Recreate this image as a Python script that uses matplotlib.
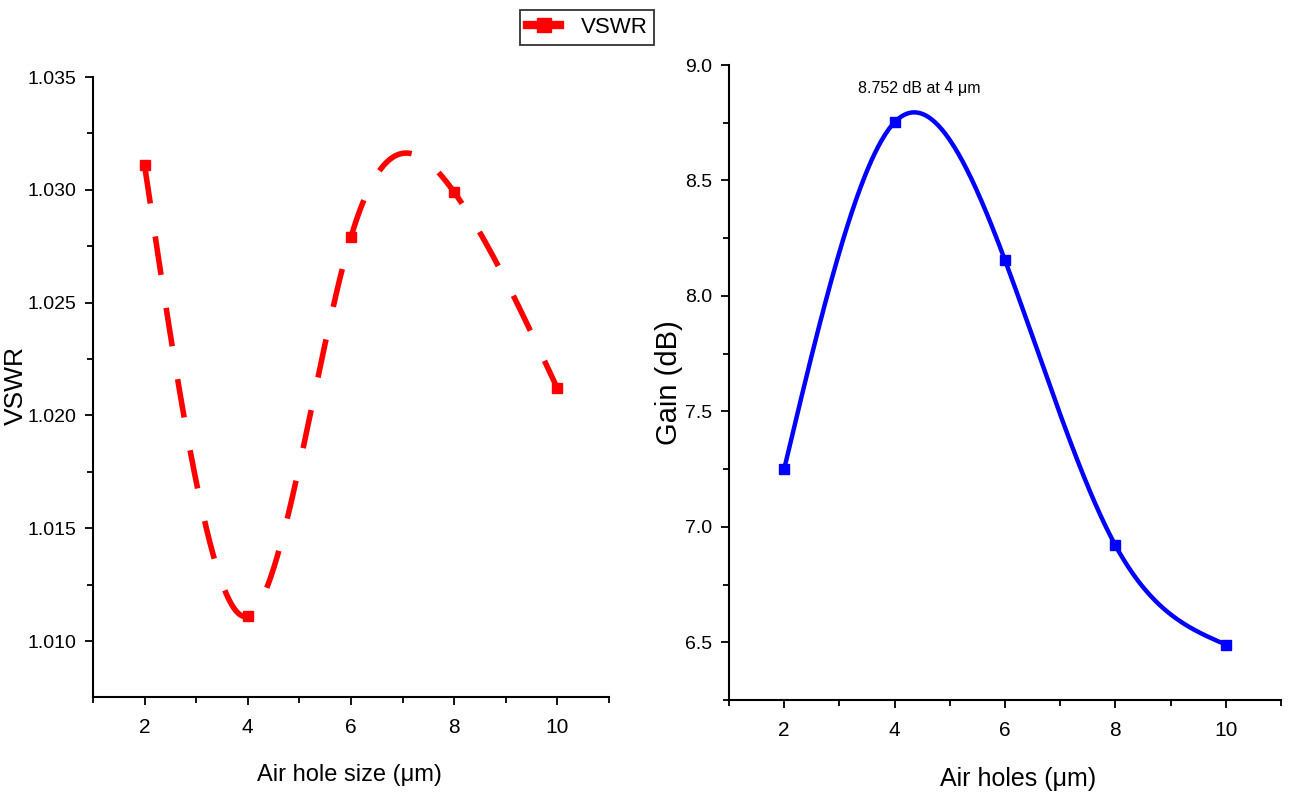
import numpy as np
import matplotlib
matplotlib.use("Agg")
import matplotlib.pyplot as plt
from matplotlib.ticker import MultipleLocator, FormatStrFormatter
from matplotlib.lines import Line2D
from matplotlib.legend_handler import HandlerLine2D

# ------------------------------------------------------------
# DATA
# ------------------------------------------------------------

air_hole_size = [2, 4, 6, 8, 10]
vswr = [1.0311, 1.0111, 1.0279, 1.0299, 1.0212]

air_holes = [2, 4, 6, 8, 10]
gain_db = [7.25, 8.752, 8.155, 6.92, 6.49]

peak_label = "8.752 dB at 4 μm"

plt.rcParams["font.family"] = ["Liberation Sans", "DejaVu Sans"]
plt.rcParams["axes.linewidth"] = 1.5


def spline_curve(x, y, n=400):
    # natural cubic spline, like Origin's "spline" connect mode
    x = np.asarray(x, float)
    y = np.asarray(y, float)
    k = len(x)
    h = np.diff(x)
    A = np.zeros((k, k))
    r = np.zeros(k)
    A[0, 0] = A[-1, -1] = 1.0
    for i in range(1, k - 1):
        A[i, i - 1] = h[i - 1]
        A[i, i] = 2 * (h[i - 1] + h[i])
        A[i, i + 1] = h[i]
        r[i] = 6 * ((y[i + 1] - y[i]) / h[i] - (y[i] - y[i - 1]) / h[i - 1])
    M = np.linalg.solve(A, r)
    xs = np.linspace(x[0], x[-1], n)
    idx = np.clip(np.searchsorted(x, xs) - 1, 0, k - 2)
    x0, x1 = x[idx], x[idx + 1]
    hh = x1 - x0
    a = (x1 - xs) / hh
    b = (xs - x0) / hh
    ys = (a * y[idx] + b * y[idx + 1]
          + ((a ** 3 - a) * M[idx] + (b ** 3 - b) * M[idx + 1]) * hh ** 2 / 6)
    return xs, ys


class MarkerRightHandler(HandlerLine2D):
    # Origin puts the legend symbol at the right end of the line sample
    def get_xdata(self, legend, xdescent, ydescent, width, height, fontsize):
        xdata = np.array([-xdescent, -xdescent + width])
        return xdata, np.array([-xdescent + width * 0.85])


def style_axes(ax):
    ax.spines["top"].set_visible(False)
    ax.spines["right"].set_visible(False)
    ax.xaxis.set_major_locator(MultipleLocator(2))
    ax.xaxis.set_minor_locator(MultipleLocator(1))
    ax.tick_params(which="major", direction="out", length=6, width=1.3, pad=6)
    ax.tick_params(which="minor", direction="out", length=4, width=1.3)
    ax.tick_params(axis="x", labelsize=15, pad=9)
    ax.tick_params(axis="y", labelsize=14)


fig = plt.figure(figsize=(12.89, 8.05), dpi=100)

# ------------------------------------------------------------
# LEFT: VSWR
# ------------------------------------------------------------

ax1 = fig.add_axes([0.0721, 0.1342, 0.4003, 0.7701])
xs, ys = spline_curve(air_hole_size, vswr)
ax1.plot(xs, ys, color="red", linewidth=4, dashes=(7, 6),
         dash_capstyle="butt")
ax1.plot(air_hole_size, vswr, linestyle="none", marker="s",
         markersize=7.5, color="red")
ax1.set_xlim(1, 11)
ax1.set_ylim(1.00752, 1.035)
ax1.yaxis.set_major_locator(MultipleLocator(0.005))
ax1.yaxis.set_minor_locator(MultipleLocator(0.0025))
ax1.yaxis.set_major_formatter(FormatStrFormatter("%.3f"))
style_axes(ax1)

ax1.set_xlabel("Air hole size (μm)", fontsize=17)
ax1.xaxis.set_label_coords(0.498, -0.108)
ax1.set_ylabel("VSWR", fontsize=19)
ax1.yaxis.set_label_coords(-0.127, 0.503)

legend_line = Line2D([], [], color="red", linewidth=6, marker="s",
                     markersize=10)
leg = fig.legend([legend_line], ["VSWR"], loc="upper left",
                 bbox_to_anchor=(520 / 1289, 1 - 10 / 805),
                 fontsize=16, frameon=True, fancybox=False,
                 handlelength=1.5, handletextpad=0.9, borderpad=0.32,
                 borderaxespad=0, numpoints=1,
                 handler_map={Line2D: MarkerRightHandler()})
leg.get_frame().set_edgecolor("black")
leg.get_frame().set_linewidth(1.3)

# ------------------------------------------------------------
# RIGHT: Gain
# ------------------------------------------------------------

ax2 = fig.add_axes([0.5655, 0.1304, 0.4283, 0.7888])
xs, ys = spline_curve(air_holes, gain_db)
ax2.plot(xs, ys, color="blue", linewidth=3.2)
ax2.plot(air_holes, gain_db, linestyle="none", marker="s",
         markersize=7.5, color="blue")
ax2.set_xlim(1, 11)
ax2.set_ylim(6.25, 9.0)
ax2.yaxis.set_major_locator(MultipleLocator(0.5))
ax2.yaxis.set_minor_locator(MultipleLocator(0.25))
ax2.yaxis.set_major_formatter(FormatStrFormatter("%.1f"))
style_axes(ax2)

ax2.set_xlabel("Air holes (μm)", fontsize=18)
ax2.xaxis.set_label_coords(0.524, -0.105)
ax2.set_ylabel("Gain (dB)", fontsize=21)
ax2.yaxis.set_label_coords(-0.083, 0.50)

ax2.annotate(peak_label, xy=(air_holes[1], gain_db[1]),
             xytext=(18, 24), textcoords="offset points",
             ha="center", va="center", fontsize=11.5)

fig.savefig("out.png", dpi=100)
plt.close(fig)
